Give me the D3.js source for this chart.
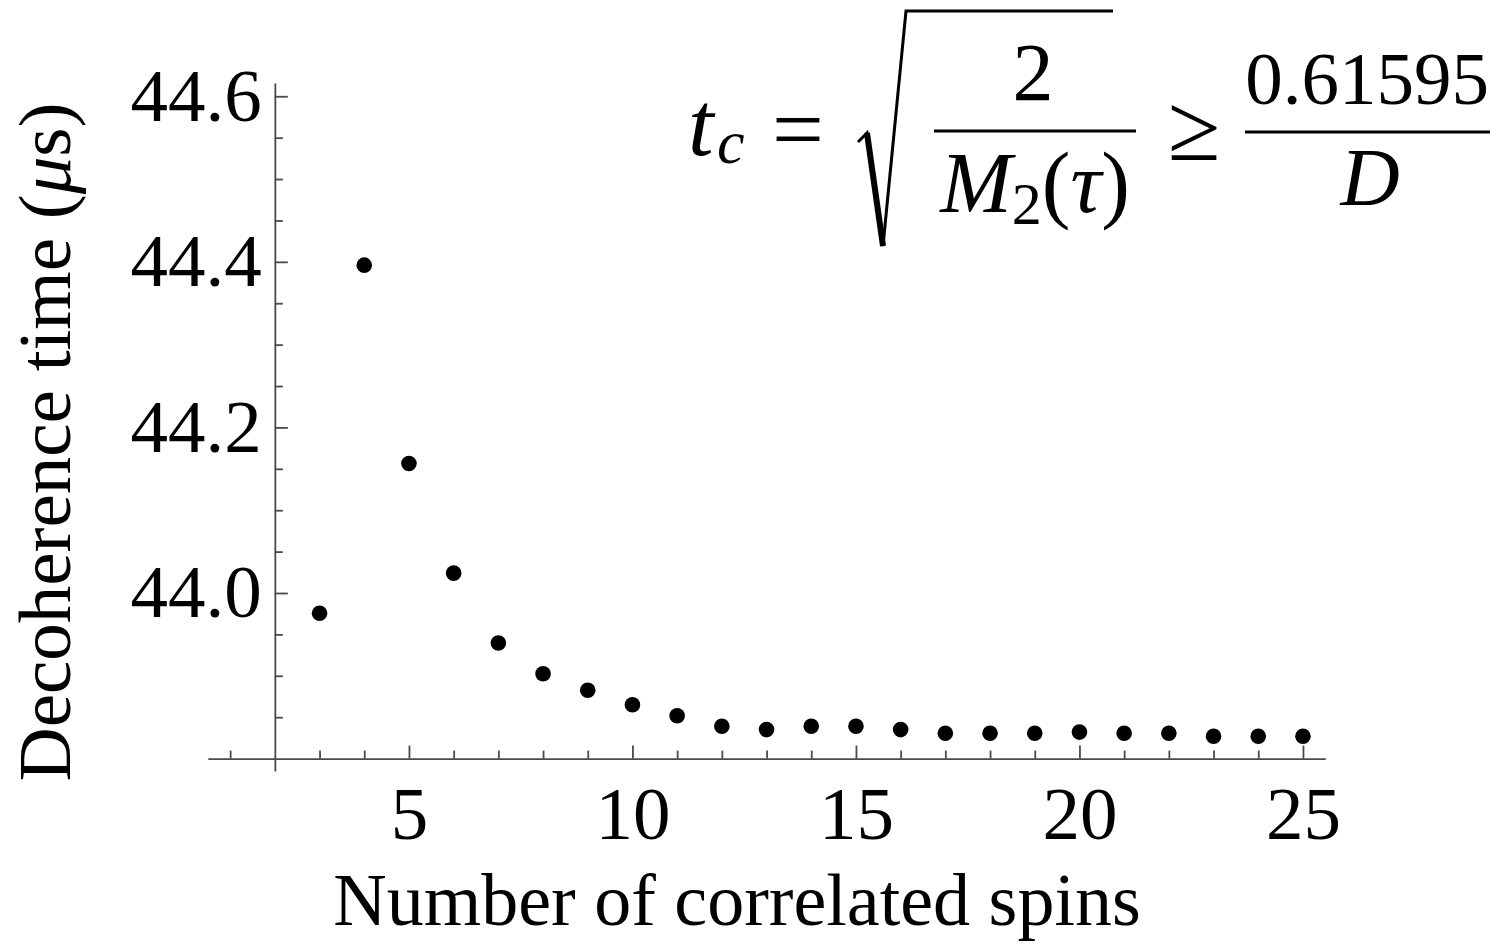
<!DOCTYPE html>
<html>
<head>
<meta charset="utf-8">
<script src="https://cdn.jsdelivr.net/npm/d3@7"></script>
<style>
  body { margin: 0; background: #fff; }
  text { font-family: "Liberation Serif", "Times New Roman", serif; fill: #000; }
</style>
</head>
<body>
<script>
// data
const spins = [3, 4, 5, 6, 7, 8, 9, 10, 11, 12, 13, 14, 15, 16, 17, 18, 19, 20, 21, 22, 23, 24, 25];
const decoTime = [43.9755, 44.396, 44.1565, 44.024, 43.9396, 43.9025, 43.8826, 43.865, 43.8518,
                  43.839, 43.835, 43.839, 43.839, 43.835, 43.8306, 43.8306, 43.8306, 43.832,
                  43.8306, 43.8306, 43.8269, 43.8269, 43.8269];
const xMajor = [5, 10, 15, 20, 25];
const xMinor = [1, 3, 4, 6, 7, 8, 9, 11, 12, 13, 14, 16, 17, 18, 19, 21, 22, 23, 24];
const yMajor = [44.0, 44.2, 44.4, 44.6];
const yMinor = [43.85, 43.9, 43.95, 44.05, 44.1, 44.15, 44.25, 44.3, 44.35, 44.45, 44.5, 44.55];

const width = 1508, height = 950;
const axisColor = '#4a4a4a';

const svg = d3.select('body')
    .append('svg')
    .attr('width', width)
    .attr('height', height);

const x = d3.scaleLinear()
    .domain([0.5, 25.5])
    .range([207.8, 1325.3]);

const y = d3.scaleLinear()
    .domain([43.785, 44.616])
    .range([771, 83]);

const xOrigin = 2, yOrigin = 43.8;

function styleAxis(g) {
    g.selectAll('path, line').attr('stroke', axisColor).attr('stroke-width', 1.8);
    g.selectAll('text').attr('font-family', '"Liberation Serif", serif').attr('font-size', 75).attr('fill', '#000');
}

// X axis (ticks point inward)
svg.append('g')
    .attr('transform', `translate(0,${y(yOrigin)})`)
    .call(d3.axisBottom(x).tickValues(xMajor).tickSize(-13).tickSizeOuter(0).tickPadding(27).tickFormat(d3.format('d')))
    .call(styleAxis);

svg.append('g')
    .attr('transform', `translate(0,${y(yOrigin)})`)
    .call(d3.axisBottom(x).tickValues(xMinor).tickSize(-8).tickSizeOuter(0).tickFormat(''))
    .call(styleAxis)
    .select('.domain').remove();

// Y axis
svg.append('g')
    .attr('transform', `translate(${x(xOrigin)},0)`)
    .call(d3.axisLeft(y).tickValues(yMajor).tickSize(-13).tickSizeOuter(0).tickPadding(13).tickFormat(d3.format('.1f')))
    .call(styleAxis);

svg.append('g')
    .attr('transform', `translate(${x(xOrigin)},0)`)
    .call(d3.axisLeft(y).tickValues(yMinor).tickSize(-8).tickSizeOuter(0).tickFormat(''))
    .call(styleAxis)
    .select('.domain').remove();

// points
svg.selectAll('.dot')
    .data(spins)
    .enter()
    .append('circle')
    .attr('class', 'dot')
    .attr('cx', d => x(d))
    .attr('cy', (d, i) => y(decoTime[i]))
    .attr('r', 7.8)
    .attr('fill', '#000');

// axis titles
svg.append('text')
    .attr('x', 737)
    .attr('y', 925)
    .attr('text-anchor', 'middle')
    .attr('font-size', 74)
    .text('Number of  correlated spins');

const yTitle = svg.append('text')
    .attr('transform', 'translate(70,442) rotate(-90)')
    .attr('text-anchor', 'middle')
    .attr('font-size', 75);
yTitle.append('tspan').text('Decoherence time (');
yTitle.append('tspan').attr('font-style', 'italic').text('\u03bc');
yTitle.append('tspan').text('s)');

// formula in the top right corner
const f = svg.append('g').attr('class', 'formula');

f.append('text').attr('x', 688).attr('y', 155).attr('font-size', 92).attr('font-style', 'italic').text('t');
f.append('text').attr('x', 717).attr('y', 163).attr('font-size', 62).attr('font-style', 'italic').text('c');

f.append('text').attr('x', 772).attr('y', 160).attr('font-size', 92).text('=');

f.append('path')
    .attr('d', 'M858,142 L867,133 L883,246 L906,11 L1113,11')
    .attr('fill', 'none')
    .attr('stroke', '#000')
    .attr('stroke-width', 3);
f.append('path')
    .attr('d', 'M867,133 L883,246')
    .attr('fill', 'none')
    .attr('stroke', '#000')
    .attr('stroke-width', 6);

f.append('text').attr('x', 1033).attr('y', 100).attr('text-anchor', 'middle').attr('font-size', 82).text('2');
f.append('line').attr('x1', 934).attr('x2', 1136).attr('y1', 131).attr('y2', 131).attr('stroke', '#000').attr('stroke-width', 3);

const den = f.append('text').attr('x', 1035).attr('y', 212).attr('text-anchor', 'middle').attr('font-size', 86);
den.append('tspan').attr('font-style', 'italic').text('M');
den.append('tspan').attr('font-size', 60).attr('dy', 12).text('2');
den.append('tspan').attr('dy', -12).text('(');
den.append('tspan').attr('font-style', 'italic').text('\u03c4');
den.append('tspan').text(')');

f.append('text').attr('x', 1194).attr('y', 160).attr('text-anchor', 'middle').attr('font-size', 96).text('\u2265');

f.append('text').attr('x', 1367).attr('y', 104).attr('text-anchor', 'middle').attr('font-size', 75).text('0.61595');
f.append('line').attr('x1', 1245).attr('x2', 1490).attr('y1', 132).attr('y2', 132).attr('stroke', '#000').attr('stroke-width', 3);
f.append('text').attr('x', 1370).attr('y', 205).attr('text-anchor', 'middle').attr('font-size', 82).attr('font-style', 'italic').text('D');
</script>
</body>
</html>
